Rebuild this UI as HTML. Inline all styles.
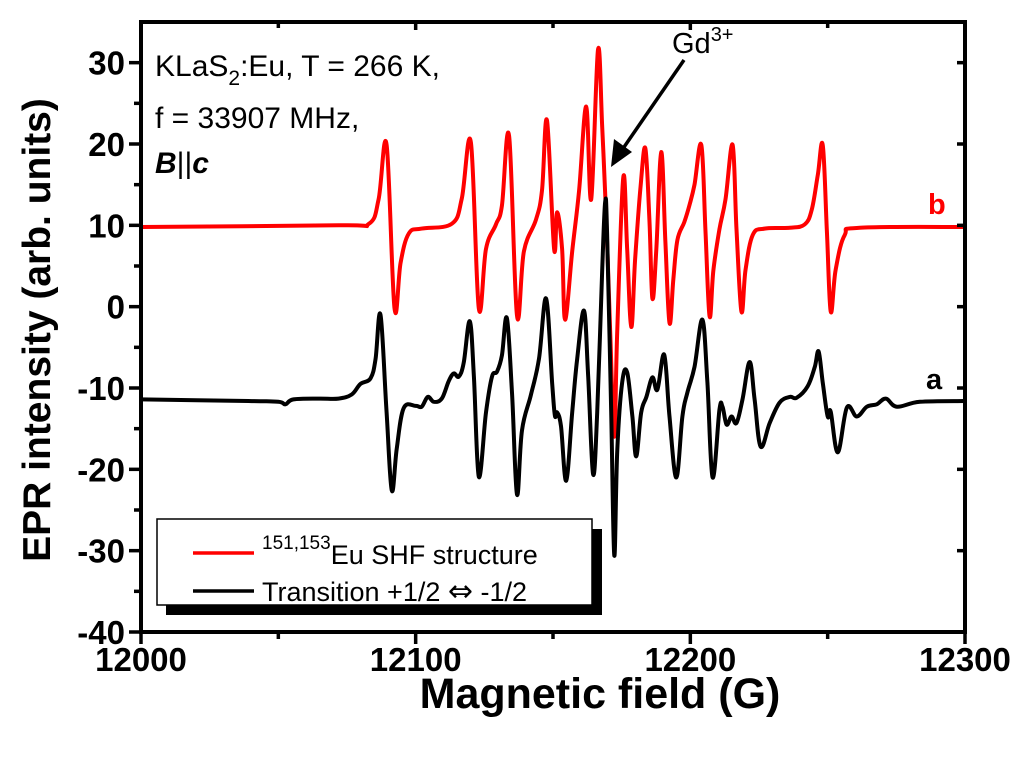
<!DOCTYPE html>
<html><head><meta charset="utf-8"><style>
html,body{margin:0;padding:0;background:#fff;}
svg{display:block;font-family:"Liberation Sans",Arial,sans-serif;}
</style></head><body>
<svg id="chart" width="1024" height="762" viewBox="0 0 1024 762">
<g id="marks"></g>
<g id="axes"></g>
<text x="155" y="76" font-size="30">KLaS<tspan font-size="21" dy="9">2</tspan><tspan dy="-9">:Eu, T = 266 K,</tspan></text>
<text x="155" y="128" font-size="30">f = 33907 MHz,</text>
<text x="155" y="173" font-size="30" font-weight="bold" font-style="italic">B<tspan font-style="normal" font-weight="normal">||</tspan>c</text>
<text x="672" y="53" font-size="29">Gd<tspan font-size="20" dy="-12">3+</tspan></text>
<line x1="684" y1="60" x2="622" y2="150" stroke="#000" stroke-width="3.5"/>
<polygon points="611,167 614,139 632,152" fill="#000"/>
<text x="928" y="214" font-size="29" font-weight="bold" fill="#f00">b</text>
<text x="926" y="389" font-size="29" font-weight="bold">a</text>
<g>
<rect x="166" y="529" width="436" height="86" fill="#000"/>
<rect x="157" y="519" width="435" height="86" fill="#fff" stroke="#000" stroke-width="1.5"/>
<line x1="193" y1="553" x2="254" y2="553" stroke="#f00" stroke-width="3.5"/>
<text x="262" y="564" font-size="27"><tspan font-size="19" dy="-15">151,153</tspan><tspan dy="15">Eu SHF structure</tspan></text>
<line x1="193" y1="591" x2="254" y2="591" stroke="#000" stroke-width="3.5"/>
<text x="262" y="601" font-size="27">Transition +1/2 <tspan font-family="DejaVu Sans" font-size="30">⇔</tspan> -1/2</text>
</g>
<text transform="translate(50,330) rotate(-90)" text-anchor="middle" font-size="39" font-weight="bold">EPR intensity (arb. units)</text>
<text x="600" y="708" text-anchor="middle" font-size="43" font-weight="bold">Magnetic field (G)</text>
</svg>
<script>
const redField=[12000,12072,12083,12086.5,12089.4,12092.3,12094.5,12097.5,12102.2,12113.2,12116.8,12120.1,12123,12125.6,12129.2,12131.4,12134,12136.9,12139.4,12143.8,12146,12147.8,12150.4,12151.5,12153.3,12154.4,12157,12159.5,12162.1,12163.9,12166.4,12167.9,12169.4,12170.8,12172.3,12173.4,12175.6,12177,12178.5,12179.9,12181.8,12183.6,12185.1,12186.2,12187.6,12189.4,12190.9,12192.4,12193.8,12195.3,12197.8,12199.7,12201.5,12204,12205.5,12207,12208.4,12210.6,12212.8,12215.4,12216.8,12218.6,12220.1,12222.7,12227,12236.2,12241.6,12244.2,12246.4,12248.2,12249.7,12251.1,12252.9,12256.2,12261.7,12300];
const redValue=[9.8,10,10.2,13.2,19.9,-0.2,5.4,9,9.6,10.2,13.3,20.2,-0.2,7.1,10.1,12.4,21,-1.1,6.8,10.7,14.3,22.9,7.1,11.6,7.1,-1.6,6.8,14.3,24.6,13.2,31.6,22.1,10.7,-2.8,-16,-2.8,15.9,7,-2.5,5.8,14.4,19.5,10.7,1,7,19,8.2,-2,3.3,8.2,10.4,12.5,15,19.9,9.5,-1.2,4.5,9.5,13.2,19.9,9.5,-0.6,4.5,8.8,9.6,9.7,10.1,11.9,16.2,19.9,9.5,-0.6,4.5,8.8,9.7,9.8];
const blackField=[12000,12039.1,12050,12052.6,12055.5,12064.6,12071.9,12076.7,12079.9,12083.6,12085.4,12087.2,12089.4,12091.3,12093.1,12095.6,12100,12102.2,12104.4,12106.6,12109.5,12112.1,12113.9,12115.7,12117.5,12119.7,12121.2,12123,12125.6,12127.8,12129.6,12131.4,12133.2,12135.1,12136.9,12138.7,12142,12144.9,12147.5,12149.7,12150.7,12151.5,12152.9,12154.8,12157,12158.8,12161.3,12162.8,12164.6,12166.1,12167.9,12169,12169.7,12171.2,12172.3,12173.4,12175.2,12177,12178.9,12180.3,12182.1,12184,12186.2,12188,12190.5,12192.4,12194.9,12197.1,12198.9,12201.5,12204.4,12206.2,12208.1,12210.6,12211.7,12213.2,12215,12216.8,12219,12221.6,12223.4,12225.6,12228.9,12232.5,12236.2,12238.7,12242.7,12245.3,12246.7,12248.2,12250,12251.1,12253.7,12257,12260.6,12264.3,12267.9,12271.2,12275.2,12283.6,12300];
const blackValue=[-11.4,-11.6,-11.7,-12,-11.4,-11.3,-11.3,-10.8,-9.5,-8.8,-6.4,-1,-13,-22.6,-17.5,-12.5,-12.2,-12.3,-11.1,-11.7,-11.3,-9.1,-8.2,-8.6,-6.9,-1.8,-8.6,-20.9,-13,-8.6,-8,-6,-1.4,-10.8,-23.1,-15.2,-10.8,-6.4,1,-9.5,-13.4,-13,-14.7,-21.4,-13,-6.4,-0.5,-8.6,-20.6,-13,4.5,12.9,9,-13,-30.6,-17.6,-9.3,-8.1,-13.5,-18.4,-13,-11.1,-8.7,-10.2,-5.9,-13.5,-21,-13.5,-10.6,-7.4,-1.6,-9.3,-21,-12.7,-12.3,-14.5,-13.5,-14.3,-11.4,-6.8,-11.4,-17.2,-14.3,-11.8,-11.1,-11.2,-9.8,-7.4,-5.5,-9.3,-13.5,-12.9,-17.9,-12.4,-13.5,-12.3,-12,-11.3,-12.3,-11.7,-11.6];
const xTicks=[12000,12100,12200,12300];
const yTicks=[30,20,10,0,-10,-20,-30,-40];

const NS='http://www.w3.org/2000/svg';
const L=141,R=965,T=22,B=632;
const xS=v=>L+(v-12000)/300*(R-L);
const yS=v=>B-(v+40)/75*(B-T);
const marks=document.getElementById('marks'),axes=document.getElementById('axes');
function mk(tag,parent){const e=document.createElementNS(NS,tag);parent.appendChild(e);return e;}
function curve(xs,ys,color,name){
  const p=mk('path',marks);
  
  
  const P=xs.map((x,i)=>[xS(x),yS(ys[i])]);
  let d='M'+P[0][0].toFixed(1)+' '+P[0][1].toFixed(1);
  const k=0.18;
  for(let i=0;i<P.length-1;i++){
    const p0=P[Math.max(0,i-1)],p1=P[i],p2=P[i+1],p3=P[Math.min(P.length-1,i+2)];
    const c1=[p1[0]+(p2[0]-p0[0])*k,p1[1]+(p2[1]-p0[1])*k];
    const c2=[p2[0]-(p3[0]-p1[0])*k,p2[1]-(p3[1]-p1[1])*k];
    d+='C'+c1[0].toFixed(1)+' '+c1[1].toFixed(1)+' '+c2[0].toFixed(1)+' '+c2[1].toFixed(1)+' '+p2[0].toFixed(1)+' '+p2[1].toFixed(1);
  }
  p.setAttribute('d',d);p.setAttribute('fill','none');p.setAttribute('stroke',color);
  p.setAttribute('stroke-width','4');p.setAttribute('stroke-linejoin','round');p.setAttribute('stroke-linecap','round');
}
curve(redField,redValue,'#f00','curve-b-shf');
curve(blackField,blackValue,'#000','curve-a-transition');
const fr=mk('rect',axes);


fr.setAttribute('x',L);fr.setAttribute('y',T);fr.setAttribute('width',R-L);fr.setAttribute('height',B-T);
fr.setAttribute('fill','none');fr.setAttribute('stroke','#000');fr.setAttribute('stroke-width','4');
function ln(x1,y1,x2,y2,name){const l=mk('line',axes);
  
  
  l.setAttribute('x1',x1);l.setAttribute('y1',y1);l.setAttribute('x2',x2);l.setAttribute('y2',y2);
  l.setAttribute('stroke','#000');l.setAttribute('stroke-width','3.5');}
xTicks.forEach(v=>{const x=xS(v);ln(x,B,x,B+12,'x-tick');ln(x,T,x,T+8,'x-tick-top');
  const t=mk('text',axes);
  
  
  t.setAttribute('x',x);t.setAttribute('y',B+39);t.setAttribute('text-anchor','middle');
  t.setAttribute('font-size','33');t.setAttribute('font-weight','bold');t.textContent=v;});
[12050,12150,12250].forEach(v=>{const x=xS(v);ln(x,B,x,B+7,'x-minor-tick');ln(x,T,x,T+6,'x-minor-tick-top');});
yTicks.forEach(v=>{const y=yS(v);ln(L-12,y,L,y,'y-tick');ln(R-8,y,R,y,'y-tick-right');
  const t=mk('text',axes);
  
  
  t.setAttribute('x',L-16);t.setAttribute('y',y+12);t.setAttribute('text-anchor','end');
  t.setAttribute('font-size','33');t.setAttribute('font-weight','bold');t.textContent=v;});
[25,15,5,-5,-15,-25,-35].forEach(v=>{const y=yS(v);ln(L-7,y,L,y,'y-minor-tick');});
</script>
</body></html>
